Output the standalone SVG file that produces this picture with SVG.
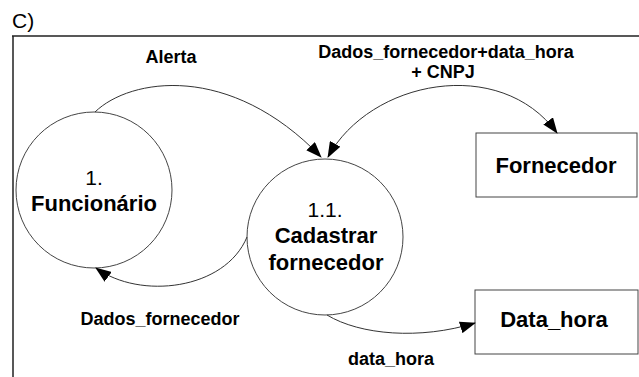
<svg xmlns="http://www.w3.org/2000/svg" width="639" height="377" viewBox="0 0 639 377">
<style>
text{font-family:"Liberation Sans",Arial,sans-serif;fill:#000}
.lbl{font-size:18px;font-weight:bold;text-anchor:middle}
.nd{font-size:22px;font-weight:bold;text-anchor:middle}
.num{font-size:21px;text-anchor:middle}
.shape{fill:#fff;stroke:#444;stroke-width:1}
.flow{fill:none;stroke:#333;stroke-width:1}
</style>
<defs>
<marker id="ah" viewBox="0 0 16 12" refX="15" refY="6" markerWidth="16" markerHeight="12" markerUnits="userSpaceOnUse" orient="auto-start-reverse">
<path d="M0,0 L16,6 L0,12 Z" fill="#000"/>
</marker>
</defs>
<text x="12" y="28" style="font-size:21px">C)</text>
<path d="M12,36 H639 M13,36 V377" fill="none" stroke="#222" stroke-width="1.5"/>
<g id="funcionario">
<circle class="shape" cx="94" cy="190" r="78"/>
<text class="num" x="94" y="185">1.</text>
<text class="nd" x="94" y="211">Funcionário</text>
</g>
<g id="cadastrar">
<circle class="shape" cx="325" cy="237" r="78"/>
<text class="num" x="325" y="217">1.1.</text>
<text class="nd" x="326" y="243">Cadastrar</text>
<text class="nd" x="326" y="270">fornecedor</text>
</g>
<g id="fornecedor">
<rect class="shape" x="476" y="133" width="161" height="64"/>
<text class="nd" x="556" y="173">Fornecedor</text>
</g>
<g id="datahora">
<rect class="shape" x="475" y="290" width="163" height="64"/>
<text class="nd" x="554" y="327">Data_hora</text>
</g>
<g id="connectors">
<path class="flow" d="M95,112 C130,78 230,62 321,157" marker-end="url(#ah)"/>
<path class="flow" d="M328,157 C370,80 500,55 557,133" marker-start="url(#ah)" marker-end="url(#ah)"/>
<path class="flow" d="M247,237 C225,290 140,300 96,268" marker-end="url(#ah)"/>
<path class="flow" d="M327,315 C360,335 420,340 475,323" marker-end="url(#ah)"/>
<text class="lbl" x="171" y="63">Alerta</text>
<text class="lbl" x="446" y="58">Dados_fornecedor+data_hora</text>
<text class="lbl" x="443" y="78">+ CNPJ</text>
<text class="lbl" x="160" y="325">Dados_fornecedor</text>
<text class="lbl" x="391" y="365">data_hora</text>
</g>
</svg>
